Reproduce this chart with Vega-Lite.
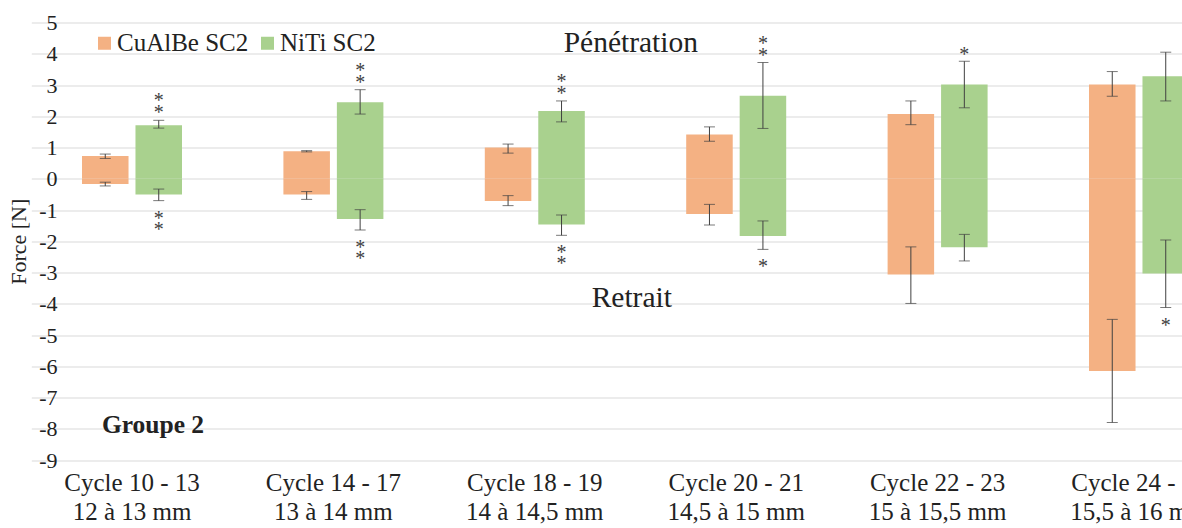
{
  "$schema": "https://vega.github.io/schema/vega-lite/v6.json",
  "width": 1099,
  "height": 437.5,
  "autosize": "none",
  "padding": {"left": 81, "top": 22.5, "right": 2, "bottom": 68},
  "background": "white",
  "config": {
    "view": {"stroke": null},
    "font": "Liberation Serif",
    "axis": {"labelFont": "Liberation Serif", "titleFont": "Liberation Serif"},
    "axisY": {"labelOverlap": false, "labelFlush": false, "tickCount": 15},
    "legend": {"labelFont": "Liberation Serif"},
    "text": {"font": "Liberation Serif"}
  },
  "data": {
    "values": [
      {"cycle": "Cycle 10 - 13|12 à 13 mm", "serie": "CuAlBe SC2", "value": 0.73, "lo": 0.65, "hi": 0.79, "star": ""},
      {"cycle": "Cycle 10 - 13|12 à 13 mm", "serie": "CuAlBe SC2", "value": -0.17, "lo": -0.23, "hi": -0.11, "star": ""},
      {"cycle": "Cycle 10 - 13|12 à 13 mm", "serie": "NiTi SC2", "value": 1.71, "lo": 1.62, "hi": 1.87, "star": "*\n*"},
      {"cycle": "Cycle 10 - 13|12 à 13 mm", "serie": "NiTi SC2", "value": -0.5, "lo": -0.7, "hi": -0.33, "star": "*\n*"},
      {"cycle": "Cycle 14 - 17|13 à 14 mm", "serie": "CuAlBe SC2", "value": 0.88, "lo": 0.86, "hi": 0.9, "star": ""},
      {"cycle": "Cycle 14 - 17|13 à 14 mm", "serie": "CuAlBe SC2", "value": -0.5, "lo": -0.66, "hi": -0.41, "star": ""},
      {"cycle": "Cycle 14 - 17|13 à 14 mm", "serie": "NiTi SC2", "value": 2.45, "lo": 2.07, "hi": 2.85, "star": "*\n*"},
      {"cycle": "Cycle 14 - 17|13 à 14 mm", "serie": "NiTi SC2", "value": -1.29, "lo": -1.64, "hi": -0.99, "star": "*\n*"},
      {"cycle": "Cycle 18 - 19|14 à 14,5 mm", "serie": "CuAlBe SC2", "value": 1.0, "lo": 0.82, "hi": 1.11, "star": ""},
      {"cycle": "Cycle 18 - 19|14 à 14,5 mm", "serie": "CuAlBe SC2", "value": -0.71, "lo": -0.86, "hi": -0.54, "star": ""},
      {"cycle": "Cycle 18 - 19|14 à 14,5 mm", "serie": "NiTi SC2", "value": 2.17, "lo": 1.82, "hi": 2.49, "star": "*\n*"},
      {"cycle": "Cycle 18 - 19|14 à 14,5 mm", "serie": "NiTi SC2", "value": -1.46, "lo": -1.81, "hi": -1.16, "star": "*\n*"},
      {"cycle": "Cycle 20 - 21|14,5 à 15 mm", "serie": "CuAlBe SC2", "value": 1.42, "lo": 1.2, "hi": 1.66, "star": ""},
      {"cycle": "Cycle 20 - 21|14,5 à 15 mm", "serie": "CuAlBe SC2", "value": -1.13, "lo": -1.48, "hi": -0.82, "star": ""},
      {"cycle": "Cycle 20 - 21|14,5 à 15 mm", "serie": "NiTi SC2", "value": 2.66, "lo": 1.61, "hi": 3.72, "star": "*\n*"},
      {"cycle": "Cycle 20 - 21|14,5 à 15 mm", "serie": "NiTi SC2", "value": -1.83, "lo": -2.26, "hi": -1.35, "star": "*"},
      {"cycle": "Cycle 22 - 23|15 à 15,5 mm", "serie": "CuAlBe SC2", "value": 2.07, "lo": 1.73, "hi": 2.49, "star": ""},
      {"cycle": "Cycle 22 - 23|15 à 15,5 mm", "serie": "CuAlBe SC2", "value": -3.06, "lo": -3.99, "hi": -2.18, "star": ""},
      {"cycle": "Cycle 22 - 23|15 à 15,5 mm", "serie": "NiTi SC2", "value": 3.02, "lo": 2.27, "hi": 3.76, "star": "*"},
      {"cycle": "Cycle 22 - 23|15 à 15,5 mm", "serie": "NiTi SC2", "value": -2.19, "lo": -2.63, "hi": -1.78, "star": ""},
      {"cycle": "Cycle 24 - 25|15,5 à 16 mm", "serie": "CuAlBe SC2", "value": 3.02, "lo": 2.64, "hi": 3.43, "star": ""},
      {"cycle": "Cycle 24 - 25|15,5 à 16 mm", "serie": "CuAlBe SC2", "value": -6.15, "lo": -7.8, "hi": -4.5, "star": ""},
      {"cycle": "Cycle 24 - 25|15,5 à 16 mm", "serie": "NiTi SC2", "value": 3.28, "lo": 2.49, "hi": 4.05, "star": ""},
      {"cycle": "Cycle 24 - 25|15,5 à 16 mm", "serie": "NiTi SC2", "value": -3.03, "lo": -4.12, "hi": -1.96, "star": "*"}
    ]
  },
  "encoding": {
    "x": {
      "field": "cycle",
      "type": "nominal",
      "sort": null,
      "scale": {"range": [-49.7, 1158.7], "paddingInner": 0.5035, "paddingOuter": 0.25175},
      "axis": {
        "title": null,
        "labelAngle": 0,
        "labelExpr": "split(datum.label, '|')",
        "labelFont": "Liberation Serif",
        "labelFontSize": 25,
        "labelLineHeight": 29,
        "labelPadding": 10,
        "labelColor": "#222222",
        "labelOverlap": false,
        "ticks": false,
        "domain": false,
        "grid": false
      }
    },
    "xOffset": {"field": "serie", "type": "nominal", "scale": {"paddingInner": 0.13, "paddingOuter": 0}}
  },
  "layer": [
    {
      "mark": {"type": "bar"},
      "encoding": {
        "y": {
          "field": "value",
          "type": "quantitative",
          "scale": {"domain": [-9, 5], "nice": false},
          "axis": {"values": [-9, -8, -7, -6, -5, -4, -3, -2, -1, 0, 1, 2, 3, 4, 5], "tickCount": 15, "labelExpr": "replace(datum.label, '−', '-')", "labelOverlap": false, "labelFlush": false, "title": "Force [N]", "titleFontSize": 22, "titleFontWeight": "normal", "titleColor": "#222222", "titlePadding": 8, "labelFontSize": 22, "labelColor": "#222222", "labelPadding": 24, "ticks": false, "domain": false, "grid": true, "gridColor": "#D9D9D9", "gridWidth": 1}
        },
        "color": {
          "field": "serie",
          "type": "nominal",
          "scale": {"range": ["#F4B183", "#A9D18E"]},
          "legend": {
            "title": null,
            "orient": "none",
            "legendX": 11,
            "legendY": 8,
            "direction": "horizontal",
            "symbolType": "square",
            "symbolSize": 169,
            "symbolStrokeWidth": 0,
            "labelFont": "Liberation Serif",
            "labelFontSize": 25,
            "labelColor": "#222222",
            "labelOffset": 0,
            "columnPadding": 6
          }
        }
      }
    },
    {
      "mark": {"type": "rule", "color": "#404040", "strokeWidth": 1},
      "encoding": {
        "y": {"field": "lo", "type": "quantitative", "axis": {"values": [-9, -8, -7, -6, -5, -4, -3, -2, -1, 0, 1, 2, 3, 4, 5], "tickCount": 15, "labelExpr": "replace(datum.label, '−', '-')", "labelOverlap": false, "labelFlush": false, "title": "Force [N]", "titleFontSize": 22, "titleFontWeight": "normal", "titleColor": "#222222", "titlePadding": 8, "labelFontSize": 22, "labelColor": "#222222", "labelPadding": 24, "ticks": false, "domain": false, "grid": true, "gridColor": "#D9D9D9", "gridWidth": 1}},
        "y2": {"field": "hi"}
      }
    },
    {
      "mark": {"type": "tick", "color": "#404040", "size": 11, "thickness": 1},
      "encoding": {"y": {"field": "lo", "type": "quantitative", "axis": {"values": [-9, -8, -7, -6, -5, -4, -3, -2, -1, 0, 1, 2, 3, 4, 5], "tickCount": 15, "labelExpr": "replace(datum.label, '−', '-')", "labelOverlap": false, "labelFlush": false, "title": "Force [N]", "titleFontSize": 22, "titleFontWeight": "normal", "titleColor": "#222222", "titlePadding": 8, "labelFontSize": 22, "labelColor": "#222222", "labelPadding": 24, "ticks": false, "domain": false, "grid": true, "gridColor": "#D9D9D9", "gridWidth": 1}}}
    },
    {
      "mark": {"type": "tick", "color": "#404040", "size": 11, "thickness": 1},
      "encoding": {"y": {"field": "hi", "type": "quantitative", "axis": {"values": [-9, -8, -7, -6, -5, -4, -3, -2, -1, 0, 1, 2, 3, 4, 5], "tickCount": 15, "labelExpr": "replace(datum.label, '−', '-')", "labelOverlap": false, "labelFlush": false, "title": "Force [N]", "titleFontSize": 22, "titleFontWeight": "normal", "titleColor": "#222222", "titlePadding": 8, "labelFontSize": 22, "labelColor": "#222222", "labelPadding": 24, "ticks": false, "domain": false, "grid": true, "gridColor": "#D9D9D9", "gridWidth": 1}}}
    },
    {
      "transform": [{"filter": "length(datum.star) == 3 && datum.value > 0"}],
      "mark": {"type": "text", "font": "Liberation Serif", "baseline": "bottom", "lineBreak": "\n", "lineHeight": 12, "fontSize": 20, "color": "#404040", "dy": -9},
      "encoding": {
        "y": {"field": "hi", "type": "quantitative", "axis": {"values": [-9, -8, -7, -6, -5, -4, -3, -2, -1, 0, 1, 2, 3, 4, 5], "tickCount": 15, "labelExpr": "replace(datum.label, '−', '-')", "labelOverlap": false, "labelFlush": false, "title": "Force [N]", "titleFontSize": 22, "titleFontWeight": "normal", "titleColor": "#222222", "titlePadding": 8, "labelFontSize": 22, "labelColor": "#222222", "labelPadding": 24, "ticks": false, "domain": false, "grid": true, "gridColor": "#D9D9D9", "gridWidth": 1}},
        "text": {"field": "star"}
      }
    },
    {
      "transform": [{"filter": "length(datum.star) == 1 && datum.value > 0"}],
      "mark": {"type": "text", "font": "Liberation Serif", "baseline": "bottom", "fontSize": 20, "color": "#404040", "dy": 4},
      "encoding": {
        "y": {"field": "hi", "type": "quantitative", "axis": {"values": [-9, -8, -7, -6, -5, -4, -3, -2, -1, 0, 1, 2, 3, 4, 5], "tickCount": 15, "labelExpr": "replace(datum.label, '−', '-')", "labelOverlap": false, "labelFlush": false, "title": "Force [N]", "titleFontSize": 22, "titleFontWeight": "normal", "titleColor": "#222222", "titlePadding": 8, "labelFontSize": 22, "labelColor": "#222222", "labelPadding": 24, "ticks": false, "domain": false, "grid": true, "gridColor": "#D9D9D9", "gridWidth": 1}},
        "text": {"field": "star"}
      }
    },
    {
      "transform": [{"filter": "length(datum.star) > 0 && datum.value < 0"}],
      "mark": {"type": "text", "font": "Liberation Serif", "baseline": "top", "lineBreak": "\n", "lineHeight": 11, "fontSize": 20, "color": "#404040", "dy": 8},
      "encoding": {
        "y": {"field": "lo", "type": "quantitative", "axis": {"values": [-9, -8, -7, -6, -5, -4, -3, -2, -1, 0, 1, 2, 3, 4, 5], "tickCount": 15, "labelExpr": "replace(datum.label, '−', '-')", "labelOverlap": false, "labelFlush": false, "title": "Force [N]", "titleFontSize": 22, "titleFontWeight": "normal", "titleColor": "#222222", "titlePadding": 8, "labelFontSize": 22, "labelColor": "#222222", "labelPadding": 24, "ticks": false, "domain": false, "grid": true, "gridColor": "#D9D9D9", "gridWidth": 1}},
        "text": {"field": "star"}
      }
    },
    {
      "data": {"values": [{}]},
      "mark": {"type": "text", "font": "Liberation Serif", "text": "Pénétration", "fontSize": 29.5, "color": "#222222", "baseline": "alphabetic", "dx": 46},
      "encoding": {
        "x": {"datum": "Cycle 18 - 19|14 à 14,5 mm", "bandPosition": 1},
        "xOffset": null,
        "y": {"datum": 4.05, "axis": {"values": [-9, -8, -7, -6, -5, -4, -3, -2, -1, 0, 1, 2, 3, 4, 5], "tickCount": 15, "labelExpr": "replace(datum.label, '−', '-')", "labelOverlap": false, "labelFlush": false, "title": "Force [N]", "titleFontSize": 22, "titleFontWeight": "normal", "titleColor": "#222222", "titlePadding": 8, "labelFontSize": 22, "labelColor": "#222222", "labelPadding": 24, "ticks": false, "domain": false, "grid": true, "gridColor": "#D9D9D9", "gridWidth": 1}}
      }
    },
    {
      "data": {"values": [{}]},
      "mark": {"type": "text", "font": "Liberation Serif", "text": "Retrait", "fontSize": 29.5, "color": "#222222", "baseline": "alphabetic", "dx": 47},
      "encoding": {
        "x": {"datum": "Cycle 18 - 19|14 à 14,5 mm", "bandPosition": 1},
        "xOffset": null,
        "y": {"datum": -4.1, "axis": {"values": [-9, -8, -7, -6, -5, -4, -3, -2, -1, 0, 1, 2, 3, 4, 5], "tickCount": 15, "labelExpr": "replace(datum.label, '−', '-')", "labelOverlap": false, "labelFlush": false, "title": "Force [N]", "titleFontSize": 22, "titleFontWeight": "normal", "titleColor": "#222222", "titlePadding": 8, "labelFontSize": 22, "labelColor": "#222222", "labelPadding": 24, "ticks": false, "domain": false, "grid": true, "gridColor": "#D9D9D9", "gridWidth": 1}}
      }
    },
    {
      "data": {"values": [{}]},
      "mark": {"type": "text", "font": "Liberation Serif", "text": "Groupe 2", "fontSize": 25.5, "fontWeight": "bold", "color": "#222222", "baseline": "alphabetic", "dx": 21},
      "encoding": {
        "x": {"datum": "Cycle 10 - 13|12 à 13 mm"},
        "xOffset": null,
        "y": {"datum": -8.14, "axis": {"values": [-9, -8, -7, -6, -5, -4, -3, -2, -1, 0, 1, 2, 3, 4, 5], "tickCount": 15, "labelExpr": "replace(datum.label, '−', '-')", "labelOverlap": false, "labelFlush": false, "title": "Force [N]", "titleFontSize": 22, "titleFontWeight": "normal", "titleColor": "#222222", "titlePadding": 8, "labelFontSize": 22, "labelColor": "#222222", "labelPadding": 24, "ticks": false, "domain": false, "grid": true, "gridColor": "#D9D9D9", "gridWidth": 1}}
      }
    }
  ]
}
